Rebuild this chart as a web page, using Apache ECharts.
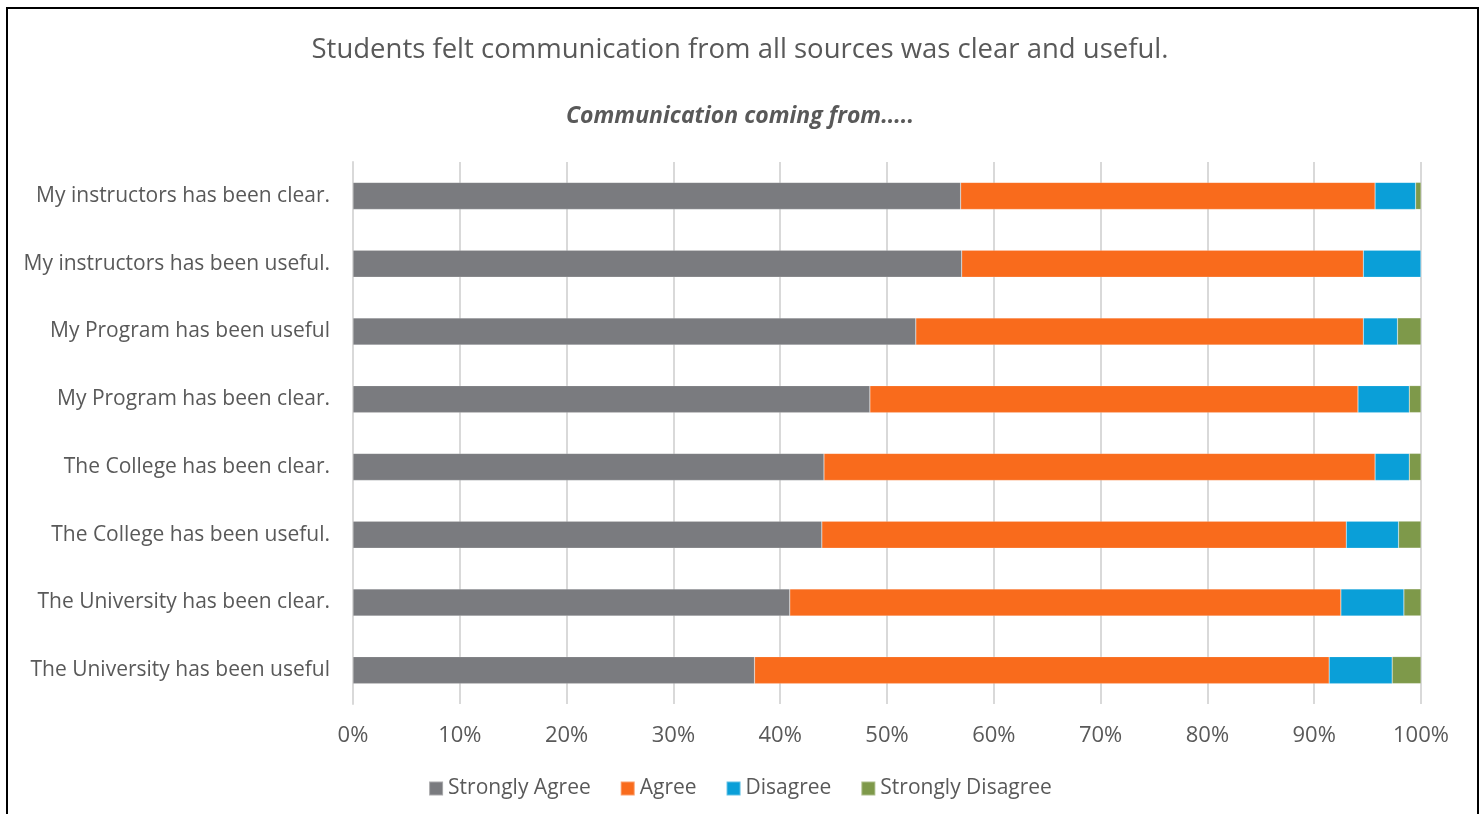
<!DOCTYPE html>
<html>
<head>
<meta charset="utf-8">
<script src="https://cdn.jsdelivr.net/npm/echarts@6/dist/echarts.min.js"></script>
<style>
  html, body { margin: 0; padding: 0; background: #fff; }
  #chart { width: 1480px; height: 814px; }
</style>
</head>
<body>
<div id="chart"></div>
<script>
// 问卷题目（从上到下）
const categories = [
    'My instructors has been clear.',
    'My instructors has been useful.',
    'My Program has been useful',
    'My Program has been clear.',
    'The College has been clear.',
    'The College has been useful.',
    'The University has been clear.',
    'The University has been useful'
];
// 各选项百分比
const stronglyAgree = [56.9, 57.0, 52.7, 48.4, 44.1, 43.9, 40.9, 37.6];
const agree = [38.8, 37.6, 41.9, 45.7, 51.6, 49.1, 51.6, 53.8];
const disagree = [3.8, 5.4, 3.2, 4.8, 3.2, 4.9, 5.9, 5.9];
const stronglyDisagree = [0.5, 0, 2.2, 1.1, 1.1, 2.1, 1.6, 2.7];
const xTicks = ['0%', '10%', '20%', '30%', '40%', '50%', '60%', '70%', '80%', '90%', '100%'];

const textColor = '#595959';
const font = '"Open Sans", sans-serif';

function makeSeries(name, data, color) {
    return {
        name: name,
        type: 'bar',
        stack: 'total',
        barWidth: 27,
        itemStyle: { color: color, borderColor: 'rgba(255,255,255,0.35)', borderWidth: 0.5 },
        data: data
    };
}

const chart = echarts.init(document.getElementById('chart'));
chart.setOption({
    animation: false,
    backgroundColor: '#fff',
    title: [
        {
            text: 'Students felt communication from all sources was clear and useful.',
            left: 'center',
            top: 31,
            textStyle: { fontFamily: font, fontSize: 27.5, fontWeight: 'normal', color: textColor }
        },
        {
            text: 'Communication coming from.....',
            left: 'center',
            top: 100,
            textStyle: { fontFamily: font, fontSize: 23, fontWeight: 'bold', fontStyle: 'italic', color: textColor }
        }
    ],
    legend: {
        bottom: 10,
        left: 'center',
        itemWidth: 14,
        itemHeight: 14,
        itemGap: 29,
        icon: 'rect',
        textStyle: { fontFamily: font, fontSize: 21, color: textColor },
        data: ['Strongly Agree', 'Agree', 'Disagree', 'Strongly Disagree']
    },
    grid: { left: 353, right: 59, top: 162, bottom: 110, containLabel: false },
    xAxis: {
        type: 'value',
        min: 0,
        max: 100,
        interval: 10,
        axisLine: { show: false },
        axisTick: { show: false },
        splitLine: { lineStyle: { color: '#d9d9d9', width: 2 } },
        axisLabel: {
            fontFamily: font,
            fontSize: 22,
            color: textColor,
            margin: 21,
            formatter: function (v) { return xTicks[Math.round(v / 10)]; }
        }
    },
    yAxis: {
        type: 'category',
        inverse: true,
        data: categories,
        axisLine: { lineStyle: { color: '#d9d9d9', width: 2 } },
        axisTick: { show: false },
        axisLabel: { fontFamily: font, fontSize: 21, color: textColor, margin: 23, padding: [4, 0, 0, 0] }
    },
    series: [
        makeSeries('Strongly Agree', stronglyAgree, '#7a7b7f'),
        makeSeries('Agree', agree, '#f96b1c'),
        makeSeries('Disagree', disagree, '#0a9fd8'),
        makeSeries('Strongly Disagree', stronglyDisagree, '#7e994a')
    ],
    graphic: [
        {
            type: 'rect',
            shape: { x: 7, y: 8, width: 1471, height: 820 },
            style: { fill: 'none', stroke: '#000', lineWidth: 2 },
            silent: true
        }
    ]
});
</script>
</body>
</html>
